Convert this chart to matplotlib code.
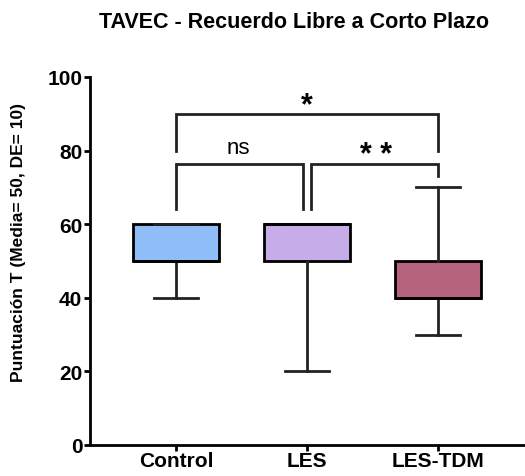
import matplotlib
matplotlib.use('Agg')
from matplotlib import pyplot as plt

plt.rcParams['font.family'] = ['Liberation Sans', 'DejaVu Sans']
plt.rcParams['font.weight'] = 'bold'

# five-number summaries per group
groups = ['Control', 'LES', 'LES-TDM']
whislo = [40, 20, 30]
q1 = [50, 50, 40]
med = [50, 60, 40]
q3 = [60, 60, 50]
whishi = [60, 60, 70]
colors = ['#8fbdf7', '#c6ade9', '#b5637c']

# significance brackets: (left, right, y, left drop, right drop, label)
brackets = [
    (0, 2, 89.9, 79.9, 79.9, '*'),
    (0, 0.97, 76.4, 64.1, 64.1, 'ns'),
    (1.03, 2, 76.4, 64.1, 73.1, '**'),
]

fig = plt.figure(figsize=(5.25, 4.77), dpi=100)
ax = fig.add_axes([0.1714, 0.065, 0.8267, 0.7715])

stats = []
for i, g in enumerate(groups):
    stats.append(dict(label=g, whislo=whislo[i], q1=q1[i], med=med[i],
                      q3=q3[i], whishi=whishi[i], fliers=[]))

bp = ax.bxp(stats, positions=range(len(groups)), widths=0.656, patch_artist=True,
            showfliers=False,
            boxprops=dict(linewidth=2, edgecolor='black'),
            medianprops=dict(color='black', linewidth=2),
            whiskerprops=dict(color='#222222', linewidth=2),
            capprops=dict(color='#222222', linewidth=2),
            capwidths=0.33)
for patch, c in zip(bp['boxes'], colors):
    patch.set_facecolor(c)

for x1, x2, y, d1, d2, lab in brackets:
    ax.plot([x1, x1, x2, x2], [d1, y, y, d2], color='#222222', lw=2,
            solid_joinstyle='miter', clip_on=False)
    if lab == 'ns':
        ax.text((x1 + x2) / 2 - 0.01, y + 3, lab, ha='center', va='baseline',
                fontsize=16, fontweight='normal')
    else:
        ax.text((x1 + x2) / 2 + (0.01 if len(lab) > 1 else 0), y + 0.3,
                lab.replace('*', '* ').strip(), ha='center', va='baseline',
                fontsize=22, fontweight='bold')

ax.set_xlim(-0.656, 2.656)
ax.set_ylim(0, 100)
ax.set_yticks([0, 20, 40, 60, 80, 100])
ax.set_xticks(range(len(groups)))
ax.set_xticklabels(groups)
ax.tick_params(axis='both', labelsize=15, width=2, length=4, pad=1.5)
ax.tick_params(axis='x', pad=0.5)
for s in ['top', 'right']:
    ax.spines[s].set_visible(False)
for s in ['left', 'bottom']:
    ax.spines[s].set_linewidth(2)

fig.text(19 / 525, 1 - 243 / 477, 'Puntuación T (Media= 50, DE= 10)', rotation=90,
         ha='center', va='center', fontsize=12.5, fontweight='bold')
fig.text(294 / 525, 1 - 23 / 477, 'TAVEC - Recuerdo Libre a Corto Plazo', ha='center', va='center',
         fontsize=15.5, fontweight='bold')

fig.savefig('out.png', dpi=100)
